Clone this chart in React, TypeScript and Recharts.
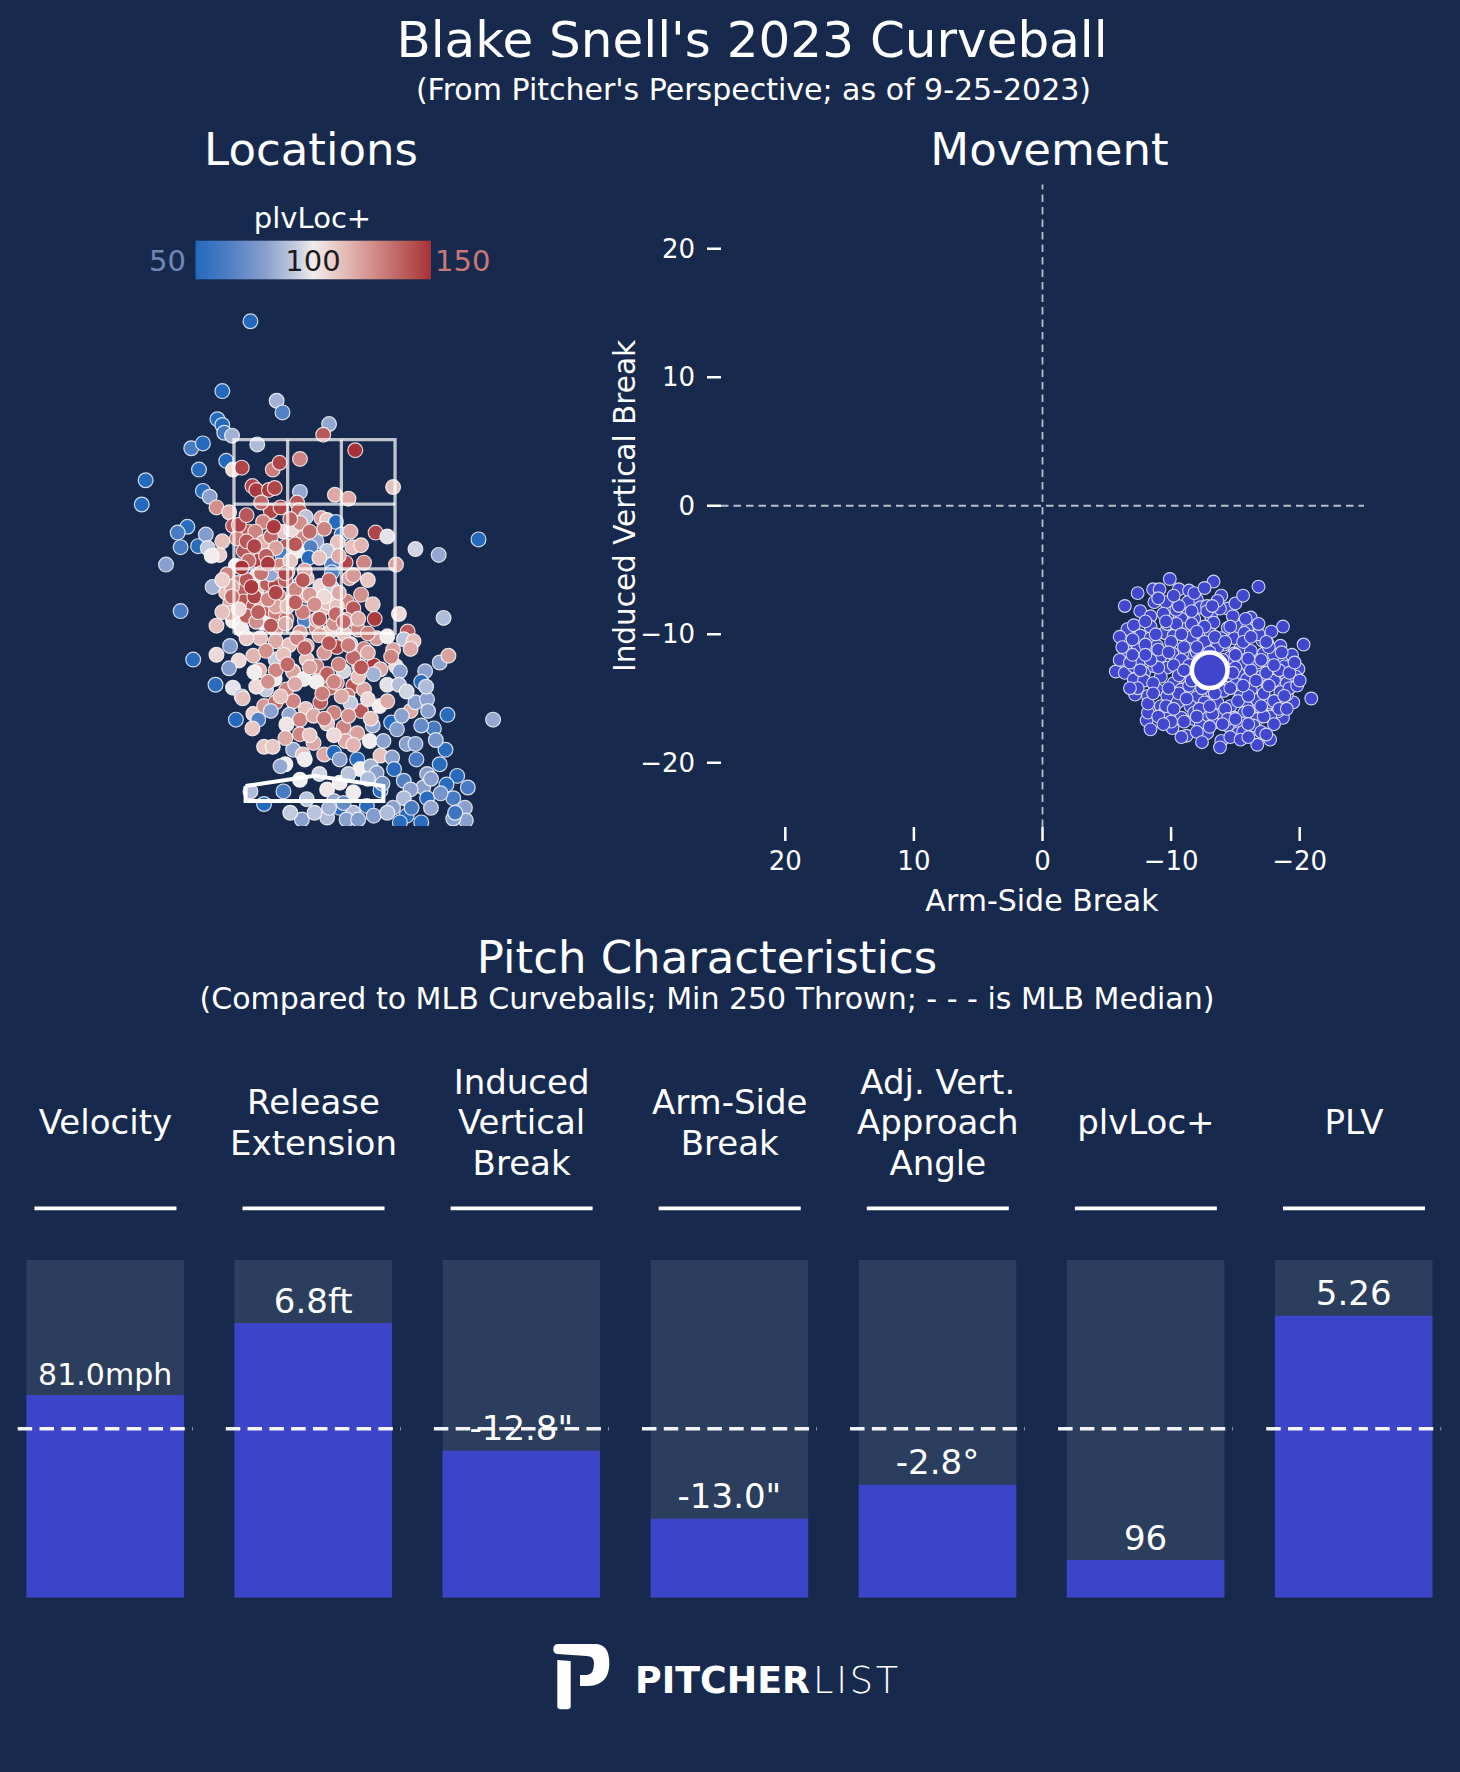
import React from 'react';
import {
  ScatterChart,
  Scatter,
  XAxis,
  YAxis,
  ReferenceLine,
  BarChart,
  Bar,
  LabelList,
} from 'recharts';

const FONT = "'DejaVu Sans', sans-serif";
const BG = '#172a4e';

// ---------------- Locations (plate_x ft, plate_z ft, plvLoc+) ----------------
const LOC_X = [
  -0.66, -0.95, -0.39, -0.33, -1.0, -0.95, -0.93, -0.85, 0.15, 0.09, -1.27, -1.15, -0.59, 0.42, -0.91, -1.19,
  -0.84, -0.75, -0.43, -0.36, -0.15, -1.74, -1.78, -1.15, -1.08, -1.01, -0.88, -0.64, -0.6, -0.47, -0.41, -0.15,
  0.21, 0.35, 0.81, -0.18, -0.16, -0.45, -0.53, -0.84, -0.68, -0.61, -0.53, -0.73, -0.58, -0.68, -1.31, -1.41,
  -1.38, -1.2, -1.12, -1.1, -0.95, -0.98, -1.06, -1.53, -0.09, 0.07, 0.13, 0.22, 0.28, 0.37, 0.39, 0.48,
  0.24, 0.63, 0.75, 1.04, 1.28, 1.69, -0.32, -0.24, -0.15, -0.11, 0.02, -0.04, 0.13, -0.29, -0.33, -0.18,
  -0.06, 0.32, 0.51, 0.84, 0.18, -0.81,
  -0.9, -0.79, -0.74, -0.73, -0.91, -0.87, -1.05, -0.6, -0.6, -0.49, -0.4, -0.37, -0.45, -0.28, -0.15, -0.08,
  0.06, 0.18, 0.18, 0.36, -0.08, -0.22, 0.09, 0.33, 0.4, 0.33, 0.62, 0.87, 1.33, -1.38, -1.01, -0.84,
  -0.75, -0.87, -0.49, -0.4, -0.53, -0.4, -0.29, -0.1, -0.15, 0.02, 0.16, 0.2, 0.45, 0.64, 0.75, 0.96,
  0.92, 1.02, -0.56, -0.4, -0.26, -0.08, 0.23, 0.37, 0.51, 0.81, 0.99, -0.87, -1.01, -0.78, -0.63, -0.4,
  -1.25, -0.88, -0.57, -0.22, -0.08, 0.02, 0.13, 0.3, 0.46, 0.61, 0.68, 0.84, 0.79, 0.88, 1.29, 1.38,
  1.14, 1.1, -1.02, -0.84, -0.75, -0.5, -0.41, -0.29, -0.22, -0.11, 0.02, 0.16, 0.23, 0.4, 0.51, 0.61,
  0.75, 0.87, -0.74, -0.63, -0.58, -0.52, -0.4, -0.45, -0.22, -0.09, -0.26, -0.15, 0.06, 0.2, 0.34, 0.48,
  0.37, 0.67, 0.99, 1.04, 1.16, 1.17, 1.37, 1.84, -0.81, -0.64, -0.29, -0.01, -0.15, -0.01, 0.13, 0.3,
  0.44, 0.32, 0.57, 0.79, 0.71, 0.85, 0.95, 1.04, 1.23, 1.35, -0.52, -0.43, -0.3, -0.35, -0.22, -0.12,
  0.1, 0.2, 0.26, 0.44, 0.47, 0.58, 0.68, 0.8, 0.82, 0.64, 1.29, 1.16, 1.47, 1.58, 1.36, 1.12,
  0.92, 0.99, 1.16, 1.43, 0.92, 0.68, 0.81, 0.95, 1.2, 1.55, 1.56, 1.1, 0.4, 0.26, 0.13, -0.15,
  -0.32, -0.52, -0.66, -0.08, 0.2, 0.26, 0.4, 0.54, 0.61, 0.75, -0.13, 0.13, 0.33, 0.0, 0.88, 1.43,
  0.13, 0.23, 0.02, -0.4, -0.63, -0.7, -0.56,
  -0.8, -0.7, -0.45, -0.4, -0.5, -0.36, -0.25, -0.1, 0.05, 0.25, 0.4, 0.55, -0.55, -0.7, -0.85, -0.95,
  -0.3, -0.2, -0.05, 0.1, 0.25, 0.48, 0.6, -0.62, -0.48, -0.28, -0.12, 0.0, 0.22, 0.45, -0.95, -0.78,
  -0.6, -0.3, -0.18, 0.05, 0.3, 0.55, -0.7, -0.5, -0.32, 0.1, 0.4, 0.55, -0.62, -0.4, -0.05, 0.25,
  0.45, -0.2, 0.08, 0.28, 0.55, -0.35, -0.6,
  0.6, 0.9, 1.1, 1.25, 1.05, 0.7, 0.55, 0.35, 0.05, -0.1, 0.3, 0.45, 1.0, 1.3, 1.45, 1.2,
  0.15, -0.25, -0.05, 0.2, 0.4, 1.15, 0.95,
  -0.78, -0.7, -0.55, -0.35, -0.25, -0.42, -0.62, -0.75, -0.48, -0.2, -0.05, 0.1, -0.3, -0.12, 0.15, -0.65,
  -0.4, -0.2, 0.05, 0.3, -0.45, -0.85, -0.58, 0.15, 0.35, -0.1, 0.48, -0.28, 0.2, -0.48, 0.35, 0.1,
  -0.3, 0.58, 0.75,
];
const LOC_Z = [
  4.72, 4.0, 3.9, 3.78, 3.71, 3.65, 3.57, 3.54, 3.66, 3.55, 3.41, 3.46, 3.45, 3.39, 3.28, 3.19,
  3.19, 3.21, 3.19, 3.26, 3.3, 3.08, 2.83, 2.97, 2.91, 2.8, 2.75, 3.02, 2.98, 2.98, 3.0, 2.96,
  2.93, 2.89, 3.01, 2.85, 2.77, 2.76, 2.65, 2.61, 2.55, 2.55, 2.44, 2.35, 2.25, 2.25, 2.6, 2.54,
  2.39, 2.4, 2.52, 2.38, 2.45, 2.31, 2.3, 2.21, 2.7, 2.69, 2.67, 2.65, 2.52, 2.55, 2.39, 2.41,
  2.44, 2.54, 2.5, 2.37, 2.31, 2.47, 2.55, 2.57, 2.64, 2.49, 2.45, 2.39, 2.35, 2.4, 2.31, 2.35,
  2.28, 2.23, 2.23, 2.21, 2.21, 2.2,
  2.11, 2.02, 1.94, 1.83, 1.92, 1.81, 1.98, 2.09, 1.95, 2.01, 2.0, 1.89, 2.11, 2.13, 2.01, 2.07,
  1.99, 1.97, 2.13, 2.07, 1.89, 1.85, 1.76, 1.83, 1.76, 1.64, 1.65, 1.7, 1.66, 1.73, 1.58, 1.63,
  1.54, 1.71, 1.73, 1.71, 1.61, 1.54, 1.65, 1.63, 1.51, 1.56, 1.52, 1.6, 1.54, 1.45, 1.47, 1.52,
  1.44, 1.42, 1.45, 1.42, 1.38, 1.37, 1.36, 1.39, 1.34, 1.33, 1.34, 1.37, 1.28, 1.22, 1.27, 1.23,
  1.23, 1.14, 1.12, 1.11, 1.23, 1.16, 1.08, 1.11, 1.16, 1.17, 1.13, 1.16, 1.26, 1.11, 1.2, 1.27,
  1.11, 1.0, 0.97, 0.94, 0.85, 0.92, 1.03, 0.92, 1.1, 1.03, 1.0, 0.94, 0.99, 0.96, 0.92, 1.08,
  0.97, 0.97, 0.83, 0.67, 0.61, 0.75, 0.79, 0.7, 0.8, 0.72, 0.66, 0.61, 0.79, 0.68, 0.86, 0.7,
  0.78, 0.75, 0.7, 0.79, 0.82, 0.7, 0.66, 0.61, 0.61, 0.52, 0.56, 0.65, 0.46, 0.37, 0.57, 0.53,
  0.47, 0.39, 0.39, 0.58, 0.39, 0.51, 0.36, 0.36, 0.52, 0.3, 0.33, 0.33, 0.15, 0.13, 0.3, 0.25,
  0.25, 0.27, 0.2, 0.2, 0.1, 0.13, 0.24, 0.22, 0.1, 0.06, 0.15, 0.05, 0.03, -0.09, -0.06, -0.09,
  -0.02, -0.11, -0.2, -0.2, -0.2, -0.12, -0.3, -0.38, -0.3, -0.3, -0.43, -0.45, -0.14, -0.04, -0.11, -0.01,
  -0.13, -0.26, -0.13, -0.21, -0.23, -0.3, -0.35, -0.28, -0.38, -0.35, -0.42, -0.4, -0.42, -0.35, -0.45, -0.41,
  1.82, 1.78, 1.64, 1.78, 1.78, 1.68, 1.85,
  2.48, 2.45, 2.5, 2.38, 2.3, 2.2, 2.25, 2.15, 2.28, 2.3, 2.1, 2.05, 2.12, 2.05, 1.98, 2.05,
  2.05, 1.95, 1.9, 1.88, 1.92, 1.9, 1.8, 1.88, 1.85, 1.78, 1.72, 1.8, 1.7, 1.65, 1.72, 1.75,
  1.62, 1.6, 1.45, 1.48, 1.5, 1.5, 1.45, 1.32, 1.28, 1.3, 1.25, 1.3, 1.1, 1.12, 1.15, 1.18,
  1.05, 0.98, 0.88, 0.85, 0.82, 0.85, 0.95,
  0.55, 0.65, 0.55, 0.4, 0.2, -0.05, 0.0, 0.05, 0.05, 0.2, -0.25, -0.42, -0.3, -0.15, -0.35, 0.0,
  -0.3, -0.35, 0.45, 0.45, 0.35, 0.95, 0.9,
  2.62, 2.72, 2.85, 2.8, 2.68, 2.6, 2.4, 2.18, 2.22, 2.42, 2.55, 2.58, 2.12, 2.05, 2.05, 1.98,
  1.92, 1.82, 1.65, 1.62, 1.58, 1.88, 1.72, 1.4, 1.38, 1.35, 1.15, 1.18, 1.0, 1.0, 0.65, 0.62,
  0.42, 0.62, 0.8,
];
const LOC_V = [
  50, 50, 85, 65, 50, 50, 60, 85, 82, 140, 62, 50, 88, 150, 50, 52,
  105, 145, 130, 145, 128, 50, 50, 52, 80, 125, 115, 145, 148, 148, 145, 82,
  118, 118, 112, 140, 138, 145, 128, 140, 138, 128, 115, 140, 145, 135, 52, 62,
  62, 52, 78, 92, 112, 108, 100, 80, 90, 120, 110, 50, 60, 118, 112, 115,
  112, 145, 98, 95, 82, 50, 110, 105, 125, 128, 82, 65, 90, 140, 62, 100,
  50, 145, 128, 120, 65, 100,
  128, 130, 138, 140, 112, 120, 85, 102, 112, 138, 145, 130, 82, 118, 62, 112,
  105, 92, 65, 120, 118, 112, 112, 128, 140, 122, 148, 105, 88, 62, 112, 100,
  100, 118, 138, 130, 100, 128, 135, 65, 122, 128, 110, 125, 128, 122, 100, 140,
  90, 112, 112, 118, 112, 118, 145, 92, 128, 120, 118, 78, 105, 105, 115, 92,
  52, 78, 115, 118, 112, 128, 138, 95, 115, 148, 118, 105, 128, 80, 80, 120,
  80, 52, 52, 98, 82, 92, 100, 128, 120, 100, 100, 135, 130, 140, 120, 85,
  98, 88, 112, 108, 65, 122, 135, 80, 128, 112, 82, 128, 138, 128, 130, 140,
  92, 100, 118, 80, 80, 80, 52, 82, 50, 110, 102, 118, 128, 118, 112, 128,
  120, 118, 100, 50, 80, 78, 80, 78, 62, 52, 110, 110, 100, 82, 82, 112,
  118, 50, 80, 52, 100, 85, 112, 80, 52, 80, 52, 80, 52, 62, 52, 80,
  65, 80, 52, 62, 88, 52, 80, 52, 82, 80, 80, 52, 100, 100, 102, 100,
  62, 50, 88, 90, 82, 50, 88, 52, 78, 88, 80, 88, 80, 90, 52, 80,
  112, 112, 118, 120, 140, 138, 118,
  130, 140, 135, 120, 138, 128, 110, 118, 112, 118, 122, 110, 132, 140, 120, 108,
  138, 128, 122, 105, 118, 125, 112, 145, 128, 112, 130, 125, 135, 118, 112, 105,
  125, 118, 128, 120, 110, 130, 110, 125, 112, 122, 135, 118, 100, 128, 120, 128,
  112, 118, 130, 118, 105, 112, 105,
  82, 80, 70, 75, 62, 75, 88, 90, 95, 100, 70, 78, 62, 75, 58, 80,
  85, 92, 110, 105, 115, 88, 95,
  145, 140, 135, 145, 138, 148, 145, 150, 148, 140, 135, 128, 145, 140, 135, 148,
  145, 138, 140, 135, 140, 135, 138, 140, 130, 138, 140, 135, 128, 125, 125, 130,
  118, 112, 118,
];

const ZONE_LEFT = -0.83;
const ZONE_RIGHT = 0.83;
const ZONE_BOTTOM = 1.5;
const ZONE_TOP = 3.5;
const PLATE_X = [-0.71, 0, 0.71, 0.71, -0.71, -0.71];
const PLATE_Z = [-0.075, 0.03, -0.075, -0.23, -0.23, -0.075];

// ---------------- Movement (arm-side break, induced vertical break, inches) ----------------
const MOVE_HB = [
  -9.9, -13.3, -16.8, -7.4, -8.6, -9.1, -10.6, -11.4, -12.0, -13.9, -14.4, -6.4, -9.6, -8.7, -7.6, -11.2,
  -12.3, -16.2, -16.5, -18.7, -20.3, -18.5, -18.7, -19.9, -20.9, -19.5, -18.5, -18.7, -17.7, -16.7, -16.3, -13.9,
  -11.2, -10.1, -8.1, -8.2, -7.2, -5.7, -6.4, -6.5, -6.6, -7.1, -7.4, -7.9, -7.1,
  -8.4, -9.7, -10.8, -11.8, -13.1, -13.3, -14.4, -15.2, -15.9, -7.6, -8.4, -9.5, -10.2, -11.0, -12.3, -13.1,
  -13.9, -14.9, -15.7, -17.1, -8.9, -10.1, -11.3, -12.8, -14.1, -15.4, -16.2, -17.2, -18.0, -8.2, -9.2, -10.8,
  -11.8, -14.9, -15.7, -16.7, -17.7, -18.8, -8.7, -9.7, -10.8, -15.2, -15.9, -17.0, -18.0, -19.0, -7.9, -9.2,
  -10.2, -11.3, -14.9, -16.2, -17.5, -18.5, -8.9, -9.7, -10.8, -12.0, -13.1, -14.1, -15.4, -16.7, -17.7, -19.0,
  -9.2, -10.5, -11.5, -12.6, -13.6, -14.6, -15.9, -17.0, -18.3, -9.5, -10.8, -11.8, -12.8, -13.9, -14.9, -15.7,
  -16.7, -17.7, -12.3, -13.3, -14.4, -15.4, -16.4, -12.8, -15.2, -11.8, -8.4, -11.3, -10.4, -12.8, -9.7, -12.0,
  -14.1, -8.2, -18.8, -17.5, -19.7, -7.1, -7.5, -12.3, -13.9, -13.1, -12.0,
  -8.0, -9.0, -10.0, -11.6, -12.6, -13.6, -14.6, -15.6, -16.8, -17.6, -18.4, -19.2, -17.4, -16.2, -15.0, -14.4,
  -11.4, -10.2, -9.0, -8.6, -7.4, -8.2, -9.6, -10.6, -11.4, -12.4, -13.4, -14.2, -15.2, -16.0, -17.2, -18.0,
  -19.2, -18.0, -17.0, -15.6, -14.6, -13.0, -12.0, -11.0, -10.0, -9.0, -12.2, -13.2, -14.4, -16.0, -17.2, -9.4,
  -10.4, -11.6, -12.6, -13.8, -14.8, -15.0, -10.6, -7.0, -6.0, -6.8, -7.6, -8.4, -9.8, -12.8, -16.8, -17.8,
  -19.4, -19.8, -18.8, -11.8, -13.6, -8.0, -6.0,
  -8.8, -11.0, -12.0, -13.0, -14.0, -15.0, -16.0, -17.0, -18.0, -10.6, -11.6, -12.6, -13.6, -14.6, -15.6, -16.6,
  -17.6, -9.8, -10.2, -11.2, -12.0, -13.0, -14.0, -15.0, -16.0, -17.0, -18.4, -8.6, -9.4, -12.4, -15.4, -13.4,
  -14.2, -12.0, -10.8, -9.6, -11.6, -13.2, -14.6, -15.8, -16.2, -17.4, -18.6, -19.6, -20.0, -19.0, -8.0, -7.0,
  -6.2, -6.8, -8.4, -10.8, -13.8, -16.0, -17.4, -9.0, -10.2, -12.6, -15.6, -11.0, -14.8, -12.2, -13.8,
];
const MOVE_IVB = [
  -5.7, -5.9, -6.3, -6.8, -6.5, -6.5, -6.5, -6.6, -7.3, -7.0, -8.0, -7.8, -7.5, -7.5, -8.2, -8.1,
  -7.9, -8.7, -9.5, -9.4, -10.8, -10.9, -12.0, -12.7, -15.0, -15.3, -16.1, -16.5, -18.2, -18.6, -17.4, -18.3,
  -17.9, -17.3, -16.7, -16.1, -14.7, -12.9, -13.0, -11.3, -9.6, -9.3, -11.2, -13.0, -13.5,
  -8.6, -8.7, -8.8, -8.8, -8.6, -9.1, -9.5, -9.4, -9.6, -10.1, -10.3, -9.9, -10.1, -9.6, -9.9, -10.0,
  -10.3, -10.3, -9.9, -10.5, -10.9, -11.5, -10.8, -10.9, -10.8, -11.1, -11.3, -11.5, -11.6, -11.7, -11.7, -12.0,
  -11.7, -11.5, -12.3, -12.2, -12.5, -13.0, -12.5, -12.6, -13.0, -13.0, -13.5, -13.3, -13.6, -13.8, -13.6, -13.3,
  -13.8, -13.6, -13.8, -14.3, -14.0, -14.5, -14.3, -14.8, -14.3, -14.9, -14.4, -14.4, -14.8, -15.1, -15.3, -14.7,
  -15.6, -15.3, -15.6, -15.3, -15.3, -15.6, -15.7, -15.8, -16.0, -16.1, -16.5, -16.6, -16.5, -16.2, -16.5, -16.1,
  -16.6, -16.4, -17.1, -16.9, -17.1, -16.9, -17.1, -17.7, -17.7, -16.1, -9.4, -7.5, -8.1, -7.8, -9.2, -13.3,
  -12.2, -14.8, -12.5, -10.7, -13.3, -12.5, -12.2, -12.5, -13.3, -11.7, -11.4,
  -10.8, -11.2, -10.6, -10.2, -10.6, -11.0, -11.8, -10.6, -10.0, -11.0, -12.8, -13.0, -13.0, -12.8, -12.6, -13.2,
  -12.4, -12.4, -12.6, -13.8, -14.2, -15.4, -15.6, -14.6, -14.0, -14.2, -14.6, -15.8, -15.2, -14.8, -14.6, -15.2,
  -14.2, -17.0, -17.6, -17.6, -18.0, -17.2, -17.6, -16.8, -16.8, -16.4, -15.8, -16.2, -16.6, -16.0, -16.4, -8.4,
  -9.2, -9.2, -9.4, -8.0, -8.6, -7.6, -7.8, -10.4, -12.0, -12.2, -12.8, -12.0, -11.4, -8.2, -9.2, -9.8,
  -11.6, -14.0, -14.8, -6.8, -7.4, -9.0, -10.2,
  -10.0, -11.0, -11.0, -11.4, -12.0, -11.6, -11.9, -12.0, -12.4, -13.2, -13.6, -13.8, -13.4, -14.2, -14.0, -13.6,
  -14.0, -14.2, -15.8, -15.0, -16.4, -15.6, -17.0, -16.6, -17.0, -15.6, -15.8, -14.6, -17.0, -18.4, -18.2, -10.2,
  -10.6, -9.8, -10.0, -9.0, -8.2, -7.8, -9.4, -8.8, -10.2, -10.6, -11.4, -12.2, -13.6, -15.8, -11.6, -11.6,
  -11.0, -14.2, -17.4, -18.0, -18.8, -18.0, -17.8, -7.2, -7.0, -6.4, -7.0, -12.8, -13.0, -12.0, -12.2,
];
const MEAN_HB = -13.0;
const MEAN_IVB = -12.8;
const MOVE_TICKS = [20, 10, 0, -10, -20];

// ---------------- Pitch characteristics ----------------
const METRICS = [
  'Velocity',
  'Release Extension',
  'Induced Vertical Break',
  'Arm-Side Break',
  'Adj. Vert. Approach Angle',
  'plvLoc+',
  'PLV',
];
const HEADER_LINES = [
  ['Velocity'],
  ['Release', 'Extension'],
  ['Induced', 'Vertical', 'Break'],
  ['Arm-Side', 'Break'],
  ['Adj. Vert.', 'Approach', 'Angle'],
  ['plvLoc+'],
  ['PLV'],
];
const PERCENTILES = [60.0, 81.3, 43.5, 23.3, 33.4, 11.1, 83.5];
const VALUE_LABELS = ['81.0mph', '6.8ft', '-12.8"', '-13.0"', '-2.8°', '96', '5.26'];
const MLB_MEDIAN = 50;

// ---------------- helpers ----------------
const VLAG_STOPS: [number, number[]][] = [
  [0, [35, 105, 189]],
  [0.15, [81, 128, 196]],
  [0.3, [138, 160, 206]],
  [0.45, [208, 213, 226]],
  [0.5, [241, 236, 237]],
  [0.6, [232, 199, 196]],
  [0.75, [211, 143, 139]],
  [0.9, [184, 88, 88]],
  [1, [166, 50, 55]],
];
function vlagT(t: number): string {
  const tt = Math.max(0, Math.min(1, t));
  for (let i = 1; i < VLAG_STOPS.length; i++) {
    const [t1, c1] = VLAG_STOPS[i];
    const [t0, c0] = VLAG_STOPS[i - 1];
    if (tt <= t1) {
      const f = (tt - t0) / (t1 - t0);
      const c = c0.map((a, k) => Math.round(a + (c1[k] - a) * f));
      return `rgb(${c[0]},${c[1]},${c[2]})`;
    }
  }
  return 'rgb(166,50,55)';
}
const vlag = (v: number) => vlagT((v - 50) / 100);

const locData = LOC_X.map((x, i) => ({ x, z: LOC_Z[i], v: LOC_V[i] }));
const moveData = MOVE_HB.map((hb, i) => ({ hb, ivb: MOVE_IVB[i] }));
const meanData = [{ hb: MEAN_HB, ivb: MEAN_IVB }];
const barData = METRICS.map((name, i) => ({
  name,
  pct: PERCENTILES[i],
  median: MLB_MEDIAN,
  label: VALUE_LABELS[i],
}));

// strike zone outline and grid as polylines (drawn on top of the pitches)
const zoneOutline = [
  { x: ZONE_LEFT, z: ZONE_BOTTOM },
  { x: ZONE_LEFT, z: ZONE_TOP },
  { x: ZONE_RIGHT, z: ZONE_TOP },
  { x: ZONE_RIGHT, z: ZONE_BOTTOM },
  { x: ZONE_LEFT, z: ZONE_BOTTOM },
];
const thirdsX = [1, 2].map((k) => ZONE_LEFT + ((ZONE_RIGHT - ZONE_LEFT) * k) / 3);
const thirdsZ = [1, 2].map((k) => ZONE_BOTTOM + ((ZONE_TOP - ZONE_BOTTOM) * k) / 3);
const zoneGrid = [
  ...thirdsX.map((gx) => [
    { x: gx, z: ZONE_BOTTOM },
    { x: gx, z: ZONE_TOP },
  ]),
  ...thirdsZ.map((gz) => [
    { x: ZONE_LEFT, z: gz },
    { x: ZONE_RIGHT, z: gz },
  ]),
];
const plateOutline = PLATE_X.map((x, i) => ({ x, z: PLATE_Z[i] }));

const fmtTick = (v: number) => (v < 0 ? '\u2212' + Math.abs(v) : String(v));

const NoDot = () => <g />;
const ZONE_LINE = { stroke: '#ffffff', strokeOpacity: 0.72, strokeWidth: 3.3, fill: 'none' };

const LocDot = (p: any) => (
  <circle
    cx={p.cx}
    cy={p.cy}
    r={7.4}
    fill={vlag(p.payload.v)}
    stroke="#ffffff"
    strokeOpacity={0.8}
    strokeWidth={1.2}
  />
);
const MoveDot = (p: any) => (
  <circle cx={p.cx} cy={p.cy} r={6.4} fill="#4148cf" stroke="#e4e6fa" strokeOpacity={0.9} strokeWidth={1.1} />
);
const MeanDot = (p: any) => (
  <circle cx={p.cx} cy={p.cy} r={17.8} fill="#3f46cd" stroke="#ffffff" strokeWidth={4.5} />
);

const HeaderTick = (p: any) => {
  const { x, y, payload } = p;
  const idx = METRICS.indexOf(payload.value);
  const lines = HEADER_LINES[idx] || [payload.value];
  const mid = y - 125.7;
  const n = lines.length;
  return (
    <g>
      {lines.map((l, i) => (
        <text
          key={i}
          x={x}
          y={mid + (i - (n - 1) / 2) * 40.5}
          textAnchor="middle"
          fill="#ffffff"
          fontSize={34}
          fontFamily={FONT}
        >
          {l}
        </text>
      ))}
      <line x1={x - 71} x2={x + 71} y1={y - 51.7} y2={y - 51.7} stroke="#ffffff" strokeWidth={3.7} />
    </g>
  );
};

const MedianShape = (p: any) => {
  const { x, y, width } = p;
  return (
    <line
      x1={x - 8.7}
      x2={x + width + 8.7}
      y1={y}
      y2={y}
      stroke="#ffffff"
      strokeOpacity={0.95}
      strokeWidth={3.5}
      strokeDasharray="14.5 7.3"
    />
  );
};

const ValueLabel = (p: any) => {
  const { x, y, width, value } = p;
  const s = String(value);
  return (
    <text
      x={x + width / 2}
      y={y - 10.5}
      textAnchor="middle"
      fill="#ffffff"
      fontSize={s.length >= 7 ? 30 : 34}
      fontFamily={FONT}
    >
      {s}
    </text>
  );
};

const Logo = () => (
  <g fill="#ffffff">
    <path d="M553.3 1649.3 Q553.3 1644 558.7 1644 L595 1644 Q609.3 1644 609.3 1663.3 Q609.3 1685 588.3 1686 L580 1686 L580 1675 L586.7 1675 Q594 1675 594 1663.3 Q594 1656 586.7 1656 L557.3 1654 Q553.3 1653.5 553.3 1649.3 Z" />
    <path d="M557.3 1660 L570.7 1661 L570.7 1706 Q570.7 1709.3 567 1709.3 L561 1709.3 Q557.3 1709.3 557.3 1706 Z" />
    <text x={635} y={1692.7} fontSize={36.6} fontWeight={700} fontFamily={FONT} textLength={175} lengthAdjust="spacingAndGlyphs">
      PITCHER
    </text>
    <text x={813} y={1692.7} fontSize={36.6} fontWeight={200} fontFamily={FONT} textLength={85} lengthAdjust="spacing">
      LIST
    </text>
  </g>
);

export default function App() {
  const txt = { fill: '#ffffff', fontFamily: FONT } as const;
  return (
    <div
      style={{
        position: 'absolute',
        left: 0,
        top: 0,
        width: 1460,
        height: 1772,
        background: BG,
        overflow: 'hidden',
        fontFamily: FONT,
      }}
    >
      <svg width={1460} height={1772} style={{ position: 'absolute', left: 0, top: 0 }}>
        <defs>
          <linearGradient id="vlagGrad" x1="0" x2="1" y1="0" y2="0">
            {VLAG_STOPS.map(([t]) => (
              <stop key={t} offset={t} stopColor={vlagT(t)} />
            ))}
          </linearGradient>
        </defs>
        <text x={752} y={57.3} textAnchor="middle" fontSize={50} {...txt}>
          Blake Snell's 2023 Curveball
        </text>
        <text x={753.5} y={100} textAnchor="middle" fontSize={30} {...txt}>
          (From Pitcher's Perspective; as of 9-25-2023)
        </text>
        <text x={311} y={165} textAnchor="middle" fontSize={45} {...txt}>
          Locations
        </text>
        <text x={1049.5} y={165} textAnchor="middle" fontSize={45} {...txt}>
          Movement
        </text>
        <text x={312.5} y={228} textAnchor="middle" fontSize={29} {...txt}>
          plvLoc+
        </text>
        <rect x={195.5} y={240.7} width={235.5} height={38.6} fill="url(#vlagGrad)" />
        <text x={186} y={270.7} textAnchor="end" fontSize={29} fill="#7088b4" fontFamily={FONT}>
          50
        </text>
        <text x={313} y={270.7} textAnchor="middle" fontSize={29} fill="#1c1c1c" fontFamily={FONT}>
          100
        </text>
        <text x={435} y={270.7} textAnchor="start" fontSize={29} fill="#c97878" fontFamily={FONT}>
          150
        </text>
        <text
          x={634.7}
          y={506}
          textAnchor="middle"
          fontSize={29.5}
          transform="rotate(-90 634.7 506)"
          {...txt}
        >
          Induced Vertical Break
        </text>
        <text x={1042} y={910.7} textAnchor="middle" fontSize={30} {...txt}>
          Arm-Side Break
        </text>
        <text x={707} y={972.7} textAnchor="middle" fontSize={45} {...txt}>
          Pitch Characteristics
        </text>
        <text x={707} y={1009.3} textAnchor="middle" fontSize={30} {...txt}>
          (Compared to MLB Curveballs; Min 250 Thrown; - - - is MLB Median)
        </text>
        <Logo />
      </svg>

      {/* Locations */}
      <div style={{ position: 'absolute', left: 100.9, top: 299.4, width: 427, height: 527, overflow: 'hidden' }}>
        <ScatterChart width={427} height={527} margin={{ top: 0, right: 0, bottom: 0, left: 0 }}>
          <XAxis type="number" dataKey="x" domain={[-2.2, 2.2]} hide allowDataOverflow />
          <YAxis type="number" dataKey="z" domain={[-0.487, 4.95]} hide allowDataOverflow />
          <Scatter data={locData} shape={LocDot} isAnimationActive={false} />
          <Scatter data={zoneOutline} shape={NoDot} line={ZONE_LINE} isAnimationActive={false} />
          {zoneGrid.map((seg, i) => (
            <Scatter key={'g' + i} data={seg} shape={NoDot} line={ZONE_LINE} isAnimationActive={false} />
          ))}
          <Scatter
            data={plateOutline}
            shape={NoDot}
            line={{ stroke: '#ffffff', strokeWidth: 4, fill: 'none' }}
            isAnimationActive={false}
          />
        </ScatterChart>
      </div>

      {/* Movement */}
      <div style={{ position: 'absolute', left: 580, top: 170 }}>
        <ScatterChart width={804} height={717} margin={{ top: 14.5, right: 20, bottom: 0, left: 0 }}>
          <XAxis
            type="number"
            dataKey="hb"
            domain={[-25, 25]}
            reversed
            ticks={MOVE_TICKS}
            tickFormatter={fmtTick}
            height={60}
            axisLine={false}
            tickSize={14}
            tickMargin={10.5}
            tickLine={{ stroke: '#ffffff', strokeWidth: 2.5 }}
            tick={{ fill: '#ffffff', fontSize: 26, fontFamily: FONT }}
            allowDataOverflow
          />
          <YAxis
            type="number"
            dataKey="ivb"
            domain={[-25, 25]}
            ticks={MOVE_TICKS}
            tickFormatter={fmtTick}
            width={141}
            axisLine={false}
            tickSize={14}
            tickMargin={12}
            tickLine={{ stroke: '#ffffff', strokeWidth: 2.5 }}
            tick={{ fill: '#ffffff', fontSize: 26, fontFamily: FONT }}
            allowDataOverflow
          />
          <ReferenceLine x={0} stroke="#b7bdca" strokeWidth={1.8} strokeDasharray="7.5 5" />
          <ReferenceLine y={0} stroke="#b7bdca" strokeWidth={1.8} strokeDasharray="7.5 5" />
          <Scatter data={moveData} shape={MoveDot} isAnimationActive={false} />
          <Scatter data={meanData} shape={MeanDot} isAnimationActive={false} />
        </ScatterChart>
      </div>

      {/* Pitch characteristics */}
      <div style={{ position: 'absolute', left: 0, top: 1040 }}>
        <BarChart width={1460} height={557.5} data={barData} margin={{ top: 0, right: 2, bottom: 0, left: 1.4 }}>
          <XAxis
            xAxisId="main"
            dataKey="name"
            orientation="top"
            height={220}
            axisLine={false}
            tickLine={false}
            tickSize={0}
            tickMargin={0}
            interval={0}
            tick={HeaderTick}
          />
          <XAxis xAxisId="med" dataKey="name" hide />
          <XAxis xAxisId="lab" dataKey="name" hide />
          <YAxis domain={[0, 100]} hide />
          <Bar
            xAxisId="main"
            dataKey="pct"
            fill="#3c45c9"
            background={{ fill: '#2c3e5e' }}
            barSize={157.5}
            isAnimationActive={false}
          />
          <Bar xAxisId="med" dataKey="median" barSize={157.5} shape={MedianShape} isAnimationActive={false} />
          <Bar xAxisId="lab" dataKey="pct" barSize={157.5} fill="none" isAnimationActive={false}>
            <LabelList dataKey="label" content={ValueLabel} />
          </Bar>
        </BarChart>
      </div>
    </div>
  );
}
